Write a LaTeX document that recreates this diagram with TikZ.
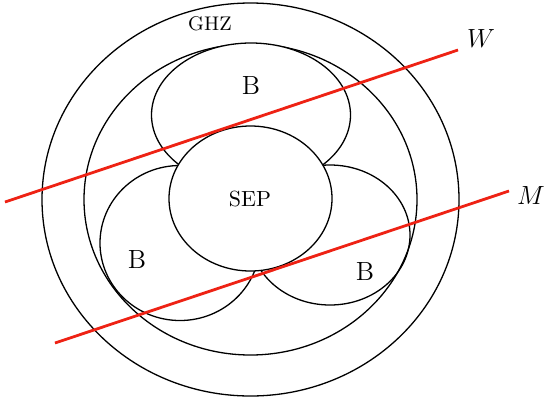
\documentclass[tikz,border=0pt]{standalone}
\usepackage{amsmath}
\usepackage{xcolor}
\usepackage{tikz}
\usetikzlibrary{positioning, calc}

\definecolor{witnessred}{RGB}{238,34,20}
\newcommand{\magnify}[1]{\scalebox{2.2}{#1}}
\tikzset{
  setline/.style={line width=1.3bp, black},
  witness/.style={line width=2.8bp, witnessred},
  setlabel/.style={font=\large},
  namelabel/.style={font=\normalsize},
  ghzlabel/.style={font=\small},
}

\begin{document}
\begin{tikzpicture}[x=1bp,y=-1bp]
  \useasboundingbox (0,0) rectangle (545,405);

  % Centres of the sets
  \coordinate (O) at (250.5,199.5);
  \coordinate (Btop) at (251,115);
  \coordinate (Bleft) at (180,243);
  \coordinate (Bright) at (330,235);
  \coordinate (S) at (250.5,198.5);

  % Nested sets
  \draw[setline] (O) ellipse [x radius=208.5, y radius=196.5];
  \draw[setline] (O) ellipse [x radius=166.5, y radius=155.5];

  % Biseparable sets
  \draw[setline, fill=white] (Btop) ellipse [x radius=99.5, y radius=72];
  \draw[setline, fill=white] (Bleft) ellipse [x radius=80, y radius=77.5];
  \draw[setline] (Bright) ellipse [x radius=80, y radius=70];

  % Separable set on top
  \draw[setline, fill=white] (S) ellipse [x radius=81.5, y radius=72.5];

  % Witness lines
  \coordinate (W1) at (5,202);
  \coordinate (W2) at (458,50);
  \coordinate (M1) at (55,343);
  \coordinate (M2) at (509,191);
  \draw[witness] (W1) -- (W2);
  \draw[witness] (M1) -- (M2);

  % Labels
  \node[ghzlabel] (ghz) at (210,24) {\magnify{GHZ}};
  \node[setlabel] (b1) at (251,86) {\magnify{B}};
  \node[setlabel] (b2) at (137,260) {\magnify{B}};
  \node[setlabel] (b3) at (365,272) {\magnify{B}};
  \node[namelabel] (sep) at (250,199) {\magnify{SEP}};
  \node[setlabel] (w) at (481,39) {\magnify{$W$}};
  \node[setlabel] (m) at (531,196) {\magnify{$M$}};
\end{tikzpicture}
\end{document}
